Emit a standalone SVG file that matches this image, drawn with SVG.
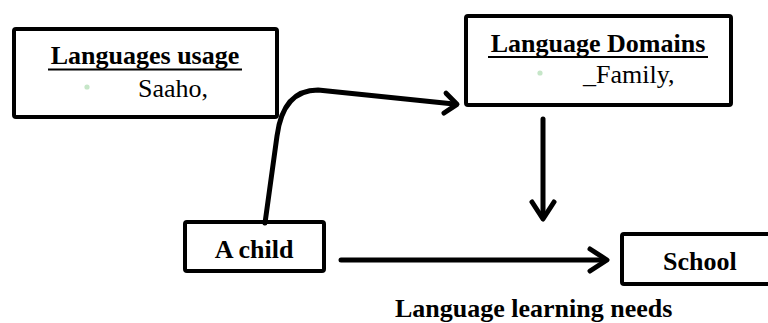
<svg xmlns="http://www.w3.org/2000/svg" width="768" height="323" viewBox="0 0 768 323">
  <style>
    .box { fill: #ffffff; stroke: #000000; stroke-width: 4; }
    .title { font-family: 'Liberation Serif', 'Times New Roman', Times, 'DejaVu Serif', serif; font-size: 26px; font-weight: bold; fill: #000000; }
    .body { font-family: 'Liberation Serif', 'Times New Roman', Times, 'DejaVu Serif', serif; font-size: 26px; fill: #000000; }
    .uline { stroke: #000000; stroke-width: 2; }
    .bullet { fill: #c6e6c8; }
    .conn { fill: none; stroke: #000000; stroke-width: 5; stroke-linecap: round; stroke-linejoin: round; }
  </style>
  <defs>
    <marker id="chev" markerUnits="userSpaceOnUse" markerWidth="40" markerHeight="40" viewBox="-20 -20 40 40" refX="0" refY="0" orient="auto" overflow="visible">
      <path d="M-14,-11 L3,0 L-14,11" fill="none" stroke="#000000" stroke-width="5" stroke-linecap="round" stroke-linejoin="round"/>
    </marker>
    <marker id="chevSmall" markerUnits="userSpaceOnUse" markerWidth="40" markerHeight="40" viewBox="-20 -20 40 40" refX="0" refY="0" orient="auto" overflow="visible">
      <path d="M-9,-10 L3,0 L-9,10" fill="none" stroke="#000000" stroke-width="5" stroke-linecap="round" stroke-linejoin="round"/>
    </marker>
  </defs>

  <g id="node-languages-usage">
    <rect class="box" x="14" y="29" width="263" height="88" rx="2"/>
    <text class="title" x="145" y="64" text-anchor="middle" font-family="Liberation Serif, serif">Languages usage</text>
    <line class="uline" x1="48" y1="69.5" x2="242" y2="69.5"/>
    <circle class="bullet" cx="87" cy="87" r="2.6"/>
    <text class="body" x="138" y="97" font-family="Liberation Serif, serif">Saaho,</text>
  </g>

  <g id="node-language-domains">
    <rect class="box" x="466" y="16" width="265" height="89" rx="2"/>
    <text class="title" x="598" y="52" text-anchor="middle" font-family="Liberation Serif, serif">Language Domains</text>
    <line class="uline" x1="488" y1="57" x2="708" y2="57"/>
    <circle class="bullet" cx="540" cy="73" r="2.6"/>
    <text class="body" x="583" y="83" font-family="Liberation Serif, serif">_Family,</text>
  </g>

  <g id="node-a-child">
    <rect class="box" x="185" y="222" width="139" height="49" rx="2"/>
    <text class="title" x="254" y="258" text-anchor="middle" font-family="Liberation Serif, serif">A child</text>
  </g>

  <g id="node-school">
    <rect class="box" x="622" y="234" width="200" height="50" rx="2"/>
    <text class="title" x="663" y="270" font-family="Liberation Serif, serif">School</text>
  </g>

  <g id="label-needs">
    <text class="title" x="395" y="317" font-family="Liberation Serif, serif">Language learning needs</text>
  </g>

  <g id="connectors">
    <path class="conn" d="M265,223 L277,136 Q283,90 318,90 L454,104" marker-end="url(#chevSmall)"/>
    <path class="conn" d="M543,119 L543,216" marker-end="url(#chev)"/>
    <path class="conn" d="M341,260 L604,260" marker-end="url(#chev)"/>
  </g>
</svg>
